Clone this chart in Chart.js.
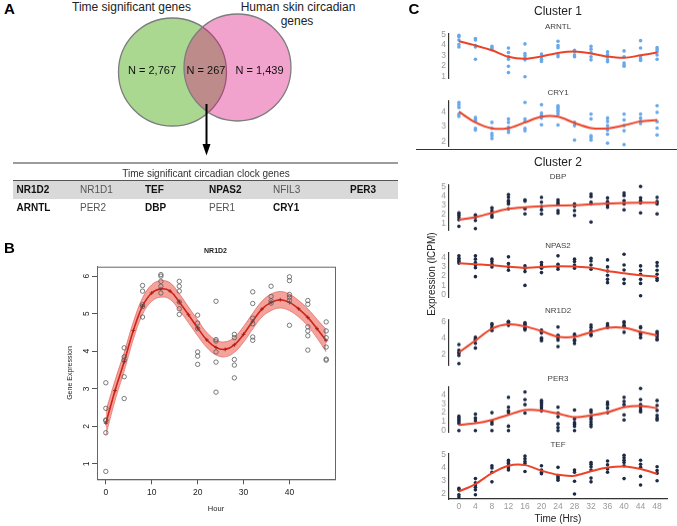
<!DOCTYPE html>
<html><head><meta charset="utf-8">
<script src="https://cdn.jsdelivr.net/npm/chart.js@4.4.0/dist/chart.umd.min.js"></script>
<style>
html,body{margin:0;padding:0;background:#fff;}
body{width:677px;height:526px;position:relative;overflow:hidden;font-family:"Liberation Sans",Arial,Helvetica,sans-serif;}
.t{position:absolute;white-space:nowrap;line-height:1;}
canvas{position:absolute;}
</style></head><body>
<script>
// ---------------- DATA ----------------
const vennSetNames = ["Time significant genes", "Human skin circadian", "genes"];
const vennCounts = [2767, 267, 1439];           // only-time, overlap, only-skin
const tableTitle = "Time significant circadian clock genes";
const clockRow1 = ["NR1D2","NR1D1","TEF","NPAS2","NFIL3","PER3"];
const clockRow2 = ["ARNTL","PER2","DBP","PER1","CRY1"];
const boldGenes = ["NR1D2","TEF","NPAS2","PER3","ARNTL","DBP","CRY1"];

const hours = [0,4,8,12,16,20,24,28,32,36,40,44,48];

// NR1D2 observed expression (panel B and panel C)
const nr1d2Pts = [
 [3.16,2.48,2.17,2.15,1.83,0.80],
 [4.09,3.85,3.76,3.32,2.74],
 [5.75,5.60,5.24,5.19,4.91],
 [6.04,6.00,5.86,5.73,5.55],
 [5.86,5.73,5.60,5.31,5.13,4.98],
 [4.96,4.75,4.60,3.98,3.87,3.65],
 [5.33,4.31,4.27,3.98,3.71,2.91],
 [4.45,4.36,3.78,3.63,3.29],
 [5.58,5.27,4.88,4.73,4.38,4.29],
 [5.73,5.46,5.34,5.28],
 [5.98,5.88,5.51,5.44,5.35,4.69],
 [5.35,5.25,4.65,4.54,4.41,4.03],
 [4.78,4.54,4.36,4.11,3.79,3.76]
];
// Panel B fitted curve and confidence band
const bFitHours = [0,2,4,6,8,10,12,14,16,18,20,22,24,26,28,30,32,34,36,38,40,42,44,46,48];
const bFit   = [2.08,2.95,3.72,4.55,5.20,5.55,5.66,5.60,5.31,4.97,4.62,4.30,4.10,4.05,4.17,4.45,4.80,5.12,5.30,5.37,5.30,5.13,4.90,4.60,4.28];
const bUpper = [2.40,3.22,3.97,4.78,5.42,5.77,5.88,5.82,5.53,5.18,4.83,4.50,4.30,4.25,4.37,4.66,5.01,5.33,5.52,5.59,5.52,5.35,5.13,4.85,4.58];
const bLower = [1.76,2.68,3.47,4.32,4.98,5.33,5.44,5.38,5.09,4.76,4.41,4.10,3.90,3.85,3.97,4.24,4.59,4.91,5.08,5.15,5.08,4.91,4.67,4.35,3.98];

// Panel C, cluster 1
const arntlPts = [
 [4.94,4.79,4.48,4.05,3.81],[4.63,4.48,3.96,3.81,2.65],[3.87,3.72,3.56],
 [3.72,3.29,2.89,2.65,1.98,1.37],[4.11,3.20,2.98,2.74,2.59,0.97],[3.14,2.89,2.65,2.44],
 [4.36,3.96,3.75,3.05,2.89],[3.50,3.35,3.05,2.89],[3.87,3.60,3.29,2.89,2.59],
 [3.35,3.10,2.89,2.59,2.41],[3.44,2.89,2.28,2.10,1.98],[4.42,3.72,2.89,2.68,2.53],
 [3.75,3.56,3.35,3.05,2.65]];
const arntlFit = [4.36,3.96,3.50,2.88,2.70,2.92,3.24,3.38,3.20,2.90,2.78,3.02,3.29];

const cry1Pts = [
 [4.63,4.47,4.29,3.84,3.69],[3.62,3.51,3.40,2.88,2.77],[3.28,2.88,2.54,2.38,2.20],
 [3.51,3.28,2.94,2.76,2.61],[4.63,3.51,3.33,2.88,2.72],[4.47,3.91,3.73,3.57,3.12],
 [4.40,4.29,4.13,4.00,3.84,3.10],[3.28,3.06,2.09],[3.84,3.51,2.38,2.27,2.09],
 [3.57,3.35,3.06,2.76,2.49,1.89],[3.84,3.44,3.06,2.72,1.78],[3.84,3.57,3.35,3.21],
 [4.40,3.96,3.33,2.90,2.43]];
const cry1Fit = [4.00,3.28,2.88,2.90,3.28,3.66,3.66,3.24,2.90,2.88,3.08,3.35,3.44];

// Panel C, cluster 2
const dbpPts = [
 [2.12,1.90,1.65,1.36,0.64],[1.90,1.65,1.29,0.39],[2.66,2.37,2.12,1.83,1.65],
 [4.10,3.81,3.45,3.27,3.09,2.55],[3.52,3.38,2.55,2.00],[3.81,3.27,2.80,2.44,2.00],
 [3.52,3.27,3.09,2.37,2.08],[3.09,2.84,2.37,1.83],[4.17,3.88,3.27,3.09,1.11],
 [3.74,3.34,2.98,2.73],[4.28,3.99,3.45,3.09,2.44],[5.00,3.74,3.45,3.20,2.12],
 [3.81,3.34,3.09,2.00]];
const dbpFit = [1.36,1.65,2.12,2.55,2.73,2.84,2.91,2.95,3.05,3.13,3.20,3.23,3.23];

const npas2Pts = [
 [4.19,3.93,3.75,3.57,3.40],[4.19,3.83,3.46,3.20,2.91,1.93],[3.83,3.57,3.28,2.99],
 [4.08,3.35,2.99,2.62],[3.10,2.84,2.48,0.98],[3.46,3.20,2.84,2.37],
 [4.19,3.28,2.99,2.73],[3.83,3.57,3.20,2.84],[3.93,3.64,3.20,2.73],
 [3.75,2.99,2.55,2.08,1.64,1.28],[4.37,3.20,2.66,1.64,1.20],[3.10,2.62,2.19,1.64,1.20,-0.15],
 [3.46,3.10,2.62,2.19,1.75,1.53]];
const npas2Fit = [3.39,3.28,3.17,3.02,2.91,2.99,3.06,3.02,2.91,2.55,2.30,2.08,1.93];

const nr1d2FitC = [2.20,3.67,5.13,5.67,5.42,4.83,4.13,4.13,4.71,5.25,5.25,4.75,4.29];

const per3Pts = [
 [1.60,1.40,1.20,1.00,0.80,0.00],[1.85,1.40,1.10,0.00],[2.00,1.00,0.75,0.00],
 [3.70,2.60,2.20,2.00,0.50,0.00],[4.30,3.45,2.90,1.95],[3.35,3.10,2.85,2.60,2.35,2.20],
 [2.60,1.95,1.55,0.75,0.35,0.00],[2.30,1.30,0.90,0.75,0.50,0.00],[2.30,2.05,1.60,1.30,1.00,0.70,0.45],
 [3.15,2.90,2.50,2.00],[3.70,3.25,2.90,1.75,1.20],[4.70,3.45,2.90,2.60,2.30,2.10],
 [3.35,2.80,2.25,1.70,1.40,1.20]];
const per3Fit = [0.64,0.82,1.20,1.76,2.30,2.25,1.90,1.50,1.70,2.05,2.60,2.75,2.50];

const tefPts = [
 [2.42,2.30,1.93,1.76],[3.16,2.84,2.67,2.50,2.30,1.93],[4.14,3.97,3.65,2.91],
 [4.56,4.43,4.31,4.14,3.97,3.82],[4.88,4.68,4.46,4.31,3.70],[4.14,3.82,3.65,3.53],
 [4.02,3.40,3.28,3.16,3.03],[3.82,3.65,2.96,1.98],[4.39,4.26,4.07,3.82,3.20,2.91],
 [4.51,4.21,3.89,3.65],[4.95,4.75,4.56,4.39,4.14,3.16],[4.56,4.26,4.02,3.33,2.67],
 [4.07,3.77,3.57,2.99]];
const tefFit = [2.17,2.74,3.57,4.14,4.19,3.77,3.45,3.38,3.72,4.00,4.09,3.89,3.53];

// ---------------- HELPERS ----------------
Chart.defaults.font.family = '"Liberation Sans", Arial, Helvetica, sans-serif';
Chart.defaults.animation = false;
Chart.defaults.plugins.legend.display = false;
Chart.defaults.plugins.tooltip.enabled = false;

function txt(s, x, y, o = {}) {
  const d = document.createElement('div');
  d.className = 't'; d.textContent = s;
  d.style.left = x + 'px'; d.style.top = y + 'px';
  d.style.fontSize = (o.size || 10) + 'px';
  d.style.color = o.color || '#222';
  if (o.bold) d.style.fontWeight = 'bold';
  let tr = o.align === 'left' ? 'translate(0,-50%)' : 'translate(-50%,-50%)';
  if (o.rot) tr += ' rotate(-90deg)';
  d.style.transform = tr;
  document.body.appendChild(d);
  return d;
}
function box(x, y, w, h, css) {
  const d = document.createElement('div');
  d.style.position = 'absolute';
  d.style.left = x + 'px'; d.style.top = y + 'px';
  d.style.width = w + 'px'; d.style.height = h + 'px';
  Object.assign(d.style, css);
  document.body.appendChild(d);
  return d;
}
function canvasAt(x, y, w, h) {
  const c = document.createElement('canvas');
  c.width = w; c.height = h;
  c.style.left = x + 'px'; c.style.top = y + 'px';
  c.style.width = w + 'px'; c.style.height = h + 'px';
  document.body.appendChild(c);
  return c.getContext('2d');
}
function toXY(pts) {
  const out = [];
  pts.forEach((vals, i) => vals.forEach(v => out.push({x: hours[i], y: v})));
  return out;
}
function expand(vals, f) {
  const lo = Math.min(...vals), hi = Math.max(...vals), p = (hi - lo) * f;
  return [lo - p, hi + p];
}

// ---------------- PANEL A ----------------
txt("A", 4, 8, {size: 15, bold: true, align: 'left', color: '#000'});
txt(vennSetNames[0], 131.5, 7, {size: 12, color: '#222'});
txt(vennSetNames[1], 298, 7, {size: 12, color: '#222'});
txt(vennSetNames[2], 297, 20.5, {size: 12, color: '#222'});

// Venn drawn as a bubble chart
const vennLayout = {green: {x: 72.5, y: 72, r: 54}, pink: {x: 137.5, y: 67.5, r: 53.5}};
new Chart(canvasAt(100, 0, 220, 140), {
  type: 'bubble',
  data: {datasets: [
    {data: [vennLayout.pink], backgroundColor: 'rgba(218,13,126,0.38)', borderColor: '#7d7d7d', borderWidth: 1.3, clip: false},
    {data: [vennLayout.green], backgroundColor: 'rgb(170,216,145)', borderColor: '#7d7d7d', borderWidth: 1.3, clip: false}
  ]},
  options: {responsive: false, layout: {padding: 0, autoPadding: false}, events: [],
    scales: {x: {display: false, min: 0, max: 220}, y: {display: false, min: 0, max: 140, reverse: true}}}
});
const fmt = n => "N = " + n.toLocaleString('en-US');
txt(fmt(vennCounts[0]), 152, 69.5, {size: 11, color: '#111'});
txt(fmt(vennCounts[1]), 206, 69.5, {size: 11, color: '#111'});
txt(fmt(vennCounts[2]), 259.5, 69.5, {size: 11, color: '#111'});

// arrow
const svgNS = 'http://www.w3.org/2000/svg';
const svg = document.createElementNS(svgNS, 'svg');
svg.setAttribute('width', 677); svg.setAttribute('height', 526);
svg.style.position = 'absolute'; svg.style.left = '0'; svg.style.top = '0';
svg.innerHTML = '<line x1="206.5" y1="104" x2="206.5" y2="147" stroke="#000" stroke-width="2"/>' +
  '<polygon points="202.5,144 210.5,144 206.5,155.5" fill="#000"/>';
document.body.appendChild(svg);

// table
box(13, 162, 385, 2, {background: '#9c9c9c'});
txt(tableTitle, 206, 173.5, {size: 10, color: '#333'});
box(13, 180, 385, 18, {background: '#d9d9d9', borderTop: '1px solid #555'});
const colX = [16.5, 80, 145, 209, 273, 350];
clockRow1.forEach((g, i) => {
  const b = boldGenes.includes(g);
  txt(g, colX[i], 190, {size: 10, bold: b, color: b ? '#111' : '#555', align: 'left'});
});
clockRow2.forEach((g, i) => {
  const b = boldGenes.includes(g);
  txt(g, colX[i], 207.5, {size: 10, bold: b, color: b ? '#111' : '#555', align: 'left'});
});

// ---------------- PANEL B ----------------
txt("B", 4, 247, {size: 15, bold: true, align: 'left', color: '#000'});
txt("NR1D2", 215.5, 250, {size: 7, bold: true, color: '#222'});
txt("Hour", 216, 509, {size: 7.5, color: '#222'});
txt("Gene Expression", 68.5, 373, {size: 7, color: '#222', rot: true});

const rPlugin = {
  id: 'rplot',
  afterDraw(chart) {
    const {ctx, chartArea: a, scales: {y}} = chart;
    ctx.save();
    ctx.strokeStyle = '#666'; ctx.lineWidth = 1;
    ctx.strokeRect(a.left + 0.5, a.top + 0.5, a.right - a.left, a.bottom - a.top);
    ctx.fillStyle = '#222';
    ctx.font = '8.5px "Liberation Sans", Arial, sans-serif';
    ctx.textAlign = 'center'; ctx.textBaseline = 'middle';
    y.ticks.forEach(t => {
      const py = y.getPixelForValue(t.value);
      ctx.save(); ctx.translate(a.left - 10.5, py); ctx.rotate(-Math.PI / 2);
      ctx.fillText(String(t.value), 0, 0); ctx.restore();
    });
    ctx.restore();
  }
};
new Chart(canvasAt(0, 240, 345, 286), {
  type: 'scatter',
  data: {datasets: [
    {data: toXY(nr1d2Pts), pointRadius: 2.2, pointBorderWidth: 0.8, borderColor: '#5a5a5a', backgroundColor: 'rgba(0,0,0,0)', clip: false},
    {type: 'line', data: bFitHours.map((h, i) => ({x: h, y: bFit[i]})), borderColor: '#cf2418', borderWidth: 1.6,
      pointStyle: 'cross', pointRadius: 2, pointBorderColor: '#a11a10', pointBorderWidth: 0.8, tension: 0.4, fill: false},
    {type: 'line', data: bFitHours.map((h, i) => ({x: h, y: bUpper[i]})), borderColor: 'rgba(220,70,60,0.55)', borderWidth: 1,
      pointRadius: 0, tension: 0.4, fill: 3, backgroundColor: 'rgba(236,105,95,0.62)'},
    {type: 'line', data: bFitHours.map((h, i) => ({x: h, y: bLower[i]})), borderColor: 'rgba(220,70,60,0.55)', borderWidth: 1,
      pointRadius: 0, tension: 0.4, fill: false}
  ]},
  options: {responsive: false, events: [],
    layout: {padding: {top: 26.7, right: 10, left: 0, bottom: 0}},
    scales: {
      x: {type: 'linear', min: -1.92, max: 49.92, afterFit(s) { s.height = 46.7; },
        grid: {display: true, drawOnChartArea: false, drawTicks: true, tickLength: 5, color: '#555'},
        border: {display: true, color: '#666'},
        ticks: {stepSize: 10, includeBounds: false, color: '#222', font: {size: 8.5}, padding: 3, maxRotation: 0}},
      y: {type: 'linear', min: 0.59, max: 6.25, afterFit(s) { s.width = 97; },
        grid: {display: true, drawOnChartArea: false, drawTicks: true, tickLength: 5, color: '#555'},
        border: {display: true, color: '#666'},
        ticks: {stepSize: 1, includeBounds: false, autoSkip: false, color: 'rgba(0,0,0,0)', font: {size: 8.5}}}
    }},
  plugins: [rPlugin]
});

// ---------------- PANEL C ----------------
txt("C", 414, 8, {size: 15, bold: true, color: '#000'});
txt("Cluster 1", 558, 10.5, {size: 12, color: '#222'});
box(416, 149, 261, 1, {background: '#333'});
txt("Cluster 2", 558, 161.5, {size: 12, color: '#222'});
txt("Expression (lCPM)", 432, 273.5, {size: 10, color: '#222', rot: true});
txt("Time (Hrs)", 558, 518.5, {size: 10, color: '#222'});

const BLUE = '#6aa9e9', NAVY = '#1c2a44', RED = '#ec4328';
function smallPanel(name, titleY, top, pts, fit, dotColor, step, showX) {
  txt(name, 558, titleY, {size: 8, color: '#444'});
  const H = 46.5, pad = 8, xh = showX ? 18 : 0;
  const all = pts.flat().concat(fit);
  const [lo, hi] = expand(all, 0.05);
  new Chart(canvasAt(420, top - pad, 257, H + pad + (showX ? xh : pad)), {
    type: 'scatter',
    data: {datasets: [
      {type: 'line', data: hours.map((h, i) => ({x: h, y: fit[i]})), borderColor: RED, borderWidth: 2,
        pointRadius: 0, tension: 0.3, fill: false, clip: false},
      {data: toXY(pts), pointRadius: 1.8, pointBorderWidth: 0, backgroundColor: dotColor, borderColor: dotColor, clip: false}
    ]},
    options: {responsive: false, events: [],
      layout: {padding: {top: pad, bottom: showX ? 0 : pad, left: 0, right: 10}},
      scales: {
        x: {type: 'linear', display: showX, min: -2.4, max: 50.4, afterFit(s) { s.height = xh; },
          grid: {display: false, drawTicks: false},
          border: {display: true, color: '#333', width: 1.2},
          ticks: {stepSize: 4, includeBounds: false, autoSkip: false, maxRotation: 0, color: '#999', font: {size: 8.5}, padding: 3}},
        y: {type: 'linear', min: lo, max: hi, afterFit(s) { s.width = 29; },
          grid: {display: false, drawTicks: false},
          border: {display: true, color: '#333', width: 1.2},
          ticks: {stepSize: step, includeBounds: false, autoSkip: false, color: '#999', font: {size: 8.5}, padding: 3}}
      }}
  });
}
smallPanel("ARNTL", 27, 32.5, arntlPts, arntlFit, BLUE, 1, false);
smallPanel("CRY1", 93, 100, cry1Pts, cry1Fit, BLUE, 1, false);
smallPanel("DBP", 177, 184, dbpPts, dbpFit, NAVY, 1, false);
smallPanel("NPAS2", 245.5, 251.5, npas2Pts, npas2Fit, NAVY, 1, false);
smallPanel("NR1D2", 311, 319, nr1d2Pts, nr1d2FitC, NAVY, 2, false);
smallPanel("PER3", 379, 386, per3Pts, per3Fit, NAVY, 1, false);
smallPanel("TEF", 444.5, 452.8, tefPts, tefFit, NAVY, 1, true);
</script>
</body></html>
